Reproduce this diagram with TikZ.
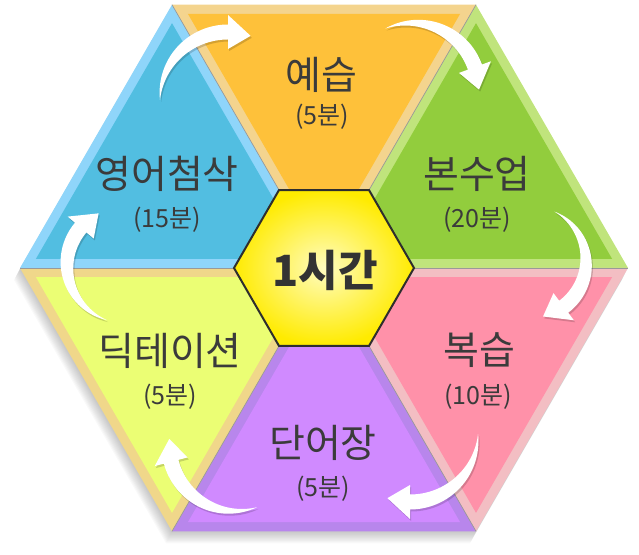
\documentclass[tikz,border=0pt]{standalone}
\usepackage{fontspec}
\newfontfamily\kr{Noto Sans CJK KR}
\usetikzlibrary{calc}
\definecolor{orgF}{HTML}{FEC13A}\definecolor{orgB}{HTML}{F4D48E}
\definecolor{grnF}{HTML}{92CD3D}\definecolor{grnB}{HTML}{C0E47C}
\definecolor{pnkF}{HTML}{FF91A9}\definecolor{pnkB}{HTML}{F3BEC3}
\definecolor{purF}{HTML}{D08AFF}\definecolor{purB}{HTML}{B886EC}
\definecolor{ylwF}{HTML}{EBFE74}\definecolor{ylwB}{HTML}{F0D78A}
\definecolor{bluF}{HTML}{52BEE1}\definecolor{bluB}{HTML}{8FD5FA}
\definecolor{hubin}{HTML}{FFFCC0}\definecolor{hubout}{HTML}{FFEB00}
\definecolor{txt}{HTML}{3B3B3B}
\newcommand{\tri}[4]{%
  \fill[#3] (#1) -- (#2) -- (O) -- cycle;
  \coordinate (G) at (barycentric cs:#1=1,#2=1,O=1);
  \fill[#4] ($(G)!0.895!(#1)$) -- ($(G)!0.895!(#2)$) -- ($(G)!0.895!(O)$) -- cycle;}
\newcommand{\arrowfill}[6]{% #1 opts, #2 cx, #3 cy, #4 r, #5 a1, #6 a2
  \pgfmathsetmacro\tipang{#6-23/#4*180/pi}
  \fill[#1] plot[domain=#5:#6,samples=40,variable=\t]
    ({#2+(#4+7.5*sin(90*(\t-(#5))/((#6)-(#5))))*cos(\t)},{#3+(#4+7.5*sin(90*(\t-(#5))/((#6)-(#5))))*sin(\t)})
    -- ({#2+(#4+17)*cos(#6)},{#3+(#4+17)*sin(#6)})
    -- ({#2+#4*cos(\tipang)},{#3+#4*sin(\tipang)})
    -- ({#2+(#4-17)*cos(#6)},{#3+(#4-17)*sin(#6)})
    -- plot[domain=#6:#5,samples=40,variable=\t]
    ({#2+(#4-7.5*sin(90*(\t-(#5))/((#6)-(#5))))*cos(\t)},{#3+(#4-7.5*sin(90*(\t-(#5))/((#6)-(#5))))*sin(\t)})
    -- cycle;}
\newcommand{\flowarrow}[5]{%
  \arrowfill{black,opacity=0.16,shift={(1.2,-2)}}{#1}{#2}{#3}{#4}{#5}
  \arrowfill{white}{#1}{#2}{#3}{#4}{#5}}
\begin{document}
\begin{tikzpicture}[x=1pt,y=1pt,
  big/.style={font=\kr\fontsize{39}{43}\selectfont,text=txt,inner sep=0pt},
  small/.style={font=\kr\fontsize{25}{29}\selectfont,text=txt,inner sep=0pt},
  spoke/.style={draw=black!40,line width=0.7pt}]
\useasboundingbox (0,0) rectangle (639,554);
\coordinate (O) at (324,286);
\foreach \a/\n in {0/A,60/B,120/C,180/D,240/E,300/F}
  \coordinate (\n) at ($(O)+(\a:304)$);
% soft shadow
\foreach \i in {1,...,10}
  \fill[black,opacity=0.025,shift={(-\i*0.6,-\i*1.2)}]
    (628,286) -- ++(120:304) -- ++(180:304) -- ++(240:304) -- ++(300:304) -- ++(0:304) -- cycle;
% triangles
\tri{B}{C}{orgB}{orgF}
\tri{A}{B}{grnB}{grnF}
\tri{F}{A}{pnkB}{pnkF}
\tri{E}{F}{purB}{purF}
\tri{D}{E}{ylwB}{ylwF}
\tri{C}{D}{bluB}{bluF}
\foreach \n in {A,B,C,D,E,F} \draw[spoke] (O) -- (\n);
% hub
\foreach \a/\n in {0/H0,60/H1,120/H2,180/H3,240/H4,300/H5}
  \coordinate (\n) at ($(O)+(\a:90)$);
\shade[inner color=hubin,outer color=hubout] (H0) -- (H1) -- (H2) -- (H3) -- (H4) -- (H5) -- cycle;
\draw[line width=2pt,draw=black!82,line join=miter] (H0) -- (H1) -- (H2) -- (H3) -- (H4) -- (H5) -- cycle;
\node[font=\kr\bfseries\fontsize{43}{47}\selectfont,text=black!80,inner sep=0pt] (hub) at (325,284) {1시간};
% arrows
\flowarrow{228}{454}{68}{180}{90}
\flowarrow{412}{464}{67}{113.5}{20}
\flowarrow{530}{292}{56}{64}{-53}
\flowarrow{410}{120}{68}{0}{-90}
\flowarrow{235}{109}{66}{-70.5}{-165.3}
\flowarrow{125}{289}{58}{251.9}{139.8}
% labels
\node[big] (l1) at (321,479) {예습};
\node[small] (t1) at (322,437) {(5분)};
\node[big] (l2) at (477,380) {본수업};
\node[small] (t2) at (477,334) {(20분)};
\node[big] (l3) at (479,204) {복습};
\node[small] (t3) at (478,157) {(10분)};
\node[big] (l4) at (323,111) {단어장};
\node[small] (t4) at (323,65) {(5분)};
\node[big] (l5) at (170,203) {딕테이션};
\node[small] (t5) at (170,157) {(5분)};
\node[big] (l6) at (167,380) {영어첨삭};
\node[small] (t6) at (167,334) {(15분)};
\end{tikzpicture}
\end{document}
